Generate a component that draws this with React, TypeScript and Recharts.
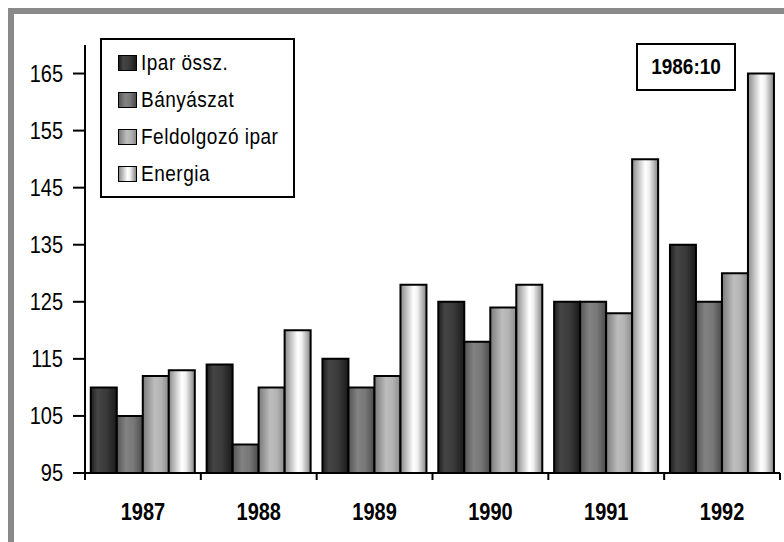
import React from 'react';
import { BarChart, Bar, XAxis, YAxis } from 'recharts';

const categories = ['1987', '1988', '1989', '1990', '1991', '1992'];
const iparOssz = [110, 114, 115, 125, 125, 135];
const banyaszat = [105, 100, 110, 118, 125, 125];
const feldolgozo = [112, 110, 112, 124, 123, 130];
const energia = [113, 120, 128, 128, 150, 165];
const yTicks = [95, 105, 115, 125, 135, 145, 155, 165];
const seriesNames = ['Ipar össz.', 'Bányászat', 'Feldolgozó ipar', 'Energia'];
const stampText = '1986:10';

const data = categories.map((c, i) => ({
  year: c,
  ipar: iparOssz[i],
  bany: banyaszat[i],
  feld: feldolgozo[i],
  ener: energia[i],
}));

const gradients: { id: string; stops: [number, string][] }[] = [
  { id: 'gIpar', stops: [[0, '#1e1e1e'], [0.25, '#454545'], [0.6, '#3a3a3a'], [1, '#1a1a1a']] },
  { id: 'gBany', stops: [[0, '#555555'], [0.35, '#828282'], [0.65, '#787878'], [1, '#4a4a4a']] },
  { id: 'gFeld', stops: [[0, '#7a7a7a'], [0.45, '#bdbdbd'], [0.7, '#b4b4b4'], [1, '#8a8a8a']] },
  { id: 'gEner', stops: [[0, '#8a8a8a'], [0.5, '#ffffff'], [0.65, '#f2f2f2'], [1, '#858585']] },
];

const keys = ['ipar', 'bany', 'feld', 'ener'];
const FONT = 'Arial, "Liberation Sans", sans-serif';
const SY = 1.17;

const YTick = (props: any) => {
  const { x, y, payload } = props;
  return (
    <g transform={`translate(${x - 10},${y}) scale(1,${SY})`}>
      <text x={0} y={0} dy="0.36em" textAnchor="end" fontFamily={FONT} fontSize={20} fill="#000">
        {payload.value}
      </text>
    </g>
  );
};

const XTick = (props: any) => {
  const { x, y, payload, index } = props;
  const off = payload.offset || 57.9;
  const last = index === categories.length - 1;
  return (
    <g>
      <line x1={x - off} y1={y} x2={x - off} y2={y + 7} stroke="#000" strokeWidth={2} />
      {last && <line x1={x + off} y1={y} x2={x + off} y2={y + 7} stroke="#000" strokeWidth={2} />}
      <g transform={`translate(${x},${y + 47}) scale(1,${SY})`}>
        <text x={0} y={0} textAnchor="middle" fontFamily={FONT} fontWeight="bold" fontSize={20} fill="#000">
          {payload.value}
        </text>
      </g>
    </g>
  );
};

const LegendBox = () => (
  <div
    style={{
      position: 'absolute',
      left: 100,
      top: 38,
      width: 191,
      height: 156,
      border: '2px solid #000',
      background: '#fff',
      boxSizing: 'content-box',
    }}
  >
    {seriesNames.map((n, i) => {
      const g = gradients[i];
      const css = `linear-gradient(to right, ${g.stops.map(([o, c]) => `${c} ${o * 100}%`).join(', ')})`;
      return (
        <div key={n} style={{ position: 'absolute', left: 16, top: 13 + i * 37, height: 20, display: 'flex', alignItems: 'center' }}>
          <div style={{ width: 17, height: 14, border: '1.5px solid #000', background: css }} />
          <div
            style={{
              marginLeft: 4,
              fontFamily: FONT,
              fontSize: 19,
              letterSpacing: 0.5,
              color: '#000',
              transform: `scaleY(${SY})`,
              whiteSpace: 'nowrap',
              lineHeight: '20px',
            }}
          >
            {n}
          </div>
        </div>
      );
    })}
  </div>
);

export default function App() {
  return (
    <div style={{ position: 'absolute', left: 0, top: 0, width: 784, height: 542, background: '#fff' }}>
      <div style={{ position: 'absolute', left: 8, top: 8, width: 776, height: 6, background: '#8a8a8a' }} />
      <div style={{ position: 'absolute', left: 8, top: 8, width: 6, height: 534, background: '#8a8a8a' }} />
      <div style={{ position: 'absolute', left: 0, top: 0 }}>
        <BarChart
          width={784}
          height={542}
          data={data}
          margin={{ top: 45, right: 4, bottom: 9, left: 0 }}
          barCategoryGap="5%"
          barGap={0}
        >
          <defs>
            {gradients.map((g) => (
              <linearGradient key={g.id} id={g.id} x1="0" y1="0" x2="1" y2="0">
                {g.stops.map(([o, c], j) => (
                  <stop key={j} offset={o} stopColor={c} />
                ))}
              </linearGradient>
            ))}
          </defs>
          <XAxis
            dataKey="year"
            height={60}
            tickSize={0}
            tickMargin={0}
            tickLine={false}
            axisLine={{ stroke: '#000', strokeWidth: 2 }}
            tick={<XTick />}
            interval={0}
          />
          <YAxis
            width={85}
            domain={[95, 170]}
            ticks={yTicks}
            allowDataOverflow
            tickSize={12}
            tickMargin={0}
            tickLine={{ stroke: '#000', strokeWidth: 2 }}
            axisLine={{ stroke: '#000', strokeWidth: 2 }}
            tick={<YTick />}
            interval={0}
          />
          {keys.map((k, i) => (
            <Bar
              key={k}
              dataKey={k}
              name={seriesNames[i]}
              fill={`url(#${gradients[i].id})`}
              stroke="#000"
              strokeWidth={2}
              isAnimationActive={false}
            />
          ))}
        </BarChart>
      </div>
      <LegendBox />
      <div
        style={{
          position: 'absolute',
          left: 636,
          top: 43,
          width: 96,
          height: 44,
          border: '2px solid #000',
          background: '#fff',
          display: 'flex',
          alignItems: 'center',
          justifyContent: 'center',
          fontFamily: FONT,
          fontWeight: 'bold',
          fontSize: 19,
        }}
      >
        <span style={{ display: 'inline-block', transform: `scaleY(${SY})` }}>{stampText}</span>
      </div>
    </div>
  );
}
